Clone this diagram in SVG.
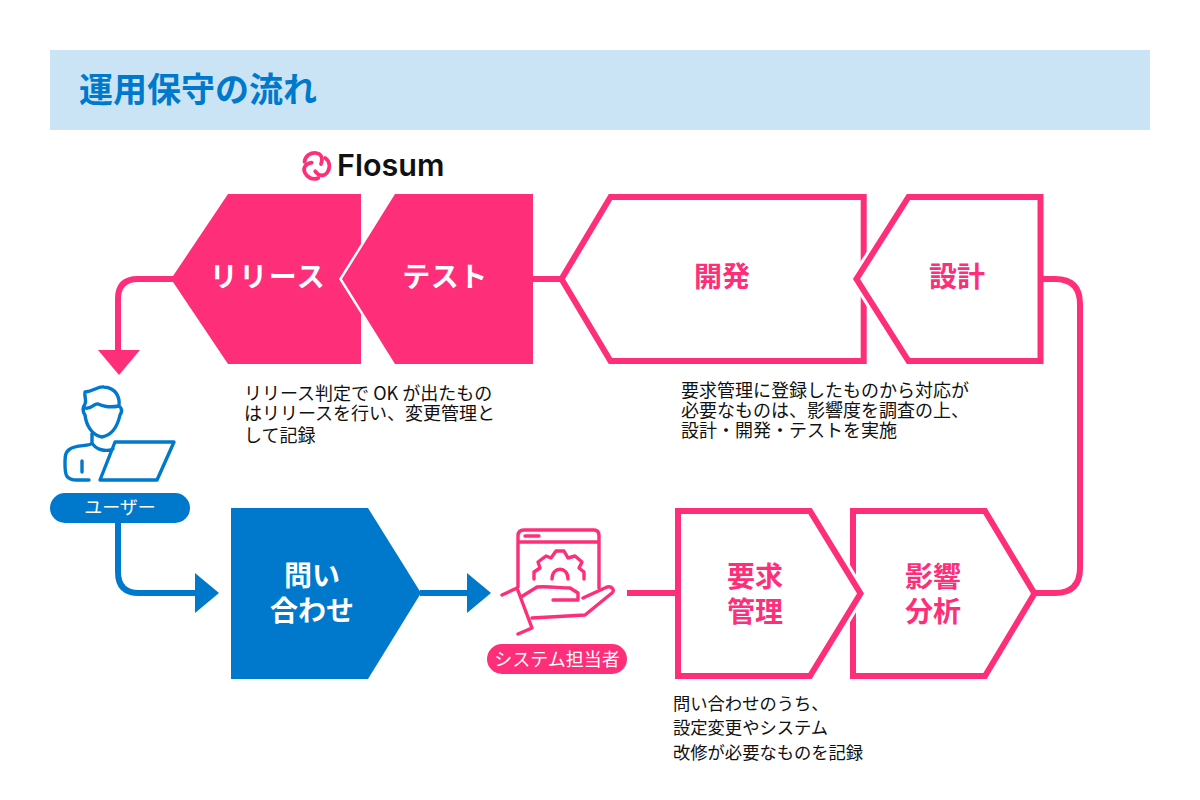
<svg xmlns="http://www.w3.org/2000/svg" width="1200" height="800" viewBox="0 0 1200 800">
<style>
text{font-family:"Noto Sans CJK JP","Liberation Sans",sans-serif}
.t{font-size:18px;fill:#111;font-weight:400}
.h{font-size:28px;font-weight:700;text-anchor:middle}
.p{fill:#ff2e78}.b{fill:#0079cc}
.ol{fill:#fff;stroke:#ff2e78;stroke-width:6;stroke-miterlimit:10}
.halo{fill:none;stroke:#fff;stroke-width:12;stroke-miterlimit:10}
.cp{fill:none;stroke:#ff2e78;stroke-width:6}
.cb{fill:none;stroke:#0079cc;stroke-width:6}
.ip{fill:none;stroke:#ff2e78;stroke-width:3.400;stroke-linecap:round;stroke-linejoin:round}
.ib{fill:none;stroke:#0079cc;stroke-width:3.400;stroke-linecap:round;stroke-linejoin:round}
.w{fill:#fff}
</style>
<defs><path id="lobe" d="M304.500 162C305 155.500 311 152.500 316 153C321 153.500 323.500 158 321 164" fill="none" stroke="#ff2e78" stroke-width="3.700" stroke-linecap="round"/></defs>
<rect width="1200" height="800" fill="#fff"/>
<g id="header"><rect x="50" y="50" width="1100" height="80" fill="#cbe4f5"/>
<text x="79" y="102" font-size="34" font-weight="700" fill="#0079cc">運用保守の流れ</text></g>
<g id="connectors">
<path class="cp" d="M175 279H138Q118 279 118 299V352"/>
<path class="p" d="M98 350H140L119 375Z"/>
<path class="cp" d="M533 279H562"/>
<path class="cp" d="M1043 279H1055Q1080 279 1080 304V568Q1080 593 1055 593H1034"/>
<path class="cp" d="M627 593H678"/>
<path class="cb" d="M118 522V572Q118 593 139 593H197"/>
<path class="b" d="M195 573L219 593L195 613Z"/>
<path class="cb" d="M420 593H468"/>
<path class="b" d="M467 573L491 593L467 613Z"/>
</g>
<g id="flosum"><use href="#lobe"/><use href="#lobe" transform="rotate(120 316 166)"/><use href="#lobe" transform="rotate(240 316 166)"/>
<text x="337" y="176" font-size="30.500" font-weight="600" fill="#111" style="font-family:'Inter','Liberation Sans',sans-serif">Flosum</text></g>
<g id="release"><path class="p" d="M228 194H361V244L339 279L361 314V364H228L171 279Z"/>
<text class="h w" x="268" y="287" letter-spacing="1.500">リリース</text></g>
<g id="test"><path class="p" d="M395 194H533V364H395L342 279Z"/>
<text class="h w" x="445" y="287" letter-spacing=".5">テスト</text></g>
<g id="dev"><path class="ol" d="M610.500 197H863.700V361H610.500L561.500 279Z"/>
<text class="h p" x="722" y="287">開発</text></g>
<g id="design"><path class="halo" d="M908.500 197L856.500 279L908.500 361"/><path class="ol" d="M908.500 197H1040.500V361H908.500L856.500 279Z"/>
<text class="h p" x="957" y="287">設計</text></g>
<g id="user"><path class="ib" d="M85 392C84 398 87 400 85 404C82 408 83 412 85 415C86 424 91 435 102 437C113 435 118 424 120 415C122 412 123 409 119 406C120 397 116 388 104 387C98 386 94 391 85 392ZM85 408C91 410 94 403 98 404C103 406 108 408 119 406M92 433V443C90 447 76 444 70 449C65 452 65 457 65 464C65 475 66 480 77 480H89M82 461V472M92 443C96 450 106 452 113 449M115 442H174L157 480H100Z"/>
<rect x="50" y="493" width="140" height="30" rx="15" class="b"/>
<text x="120" y="514" font-size="18" font-weight="400" text-anchor="middle" class="w">ユーザー</text></g>
<g id="inquiry"><path class="b" d="M231 508H368L421 593L368 679H231Z"/>
<text class="h w" text-anchor="middle"><tspan x="312" y="586">問い</tspan><tspan x="312" y="621">合わせ</tspan></text></g>
<g id="staff"><path class="ip" d="M518 587V536Q518 530 524 530H594Q599 530 599 536V588M518 542H599M525 536H539"/>
<path class="ip" d="M534 579V572L540 568L538 562L546 556L551 558L556 551H564L568 558L575 556L582 562L579 568L584 572V579M552 579C552 566 568 566 568 579"/>
<path class="ip" d="M502 595L517 588L532 628L518 634M521 597L537 587C548 586 560 588 570 588L578 593V600H553M583 598L607 587C612 586 615 590 612 593L585 615L532 618"/>
<rect x="487" y="644" width="140" height="30" rx="15" class="p"/>
<text x="557" y="666" font-size="18" font-weight="400" text-anchor="middle" class="w">システム担当者</text></g>
<g id="impact"><path class="ol" d="M853 511H985L1034.500 593.500L985 676H853Z"/>
<text class="h p" text-anchor="middle"><tspan x="933" y="587">影響</tspan><tspan x="933" y="622">分析</tspan></text></g>
<g id="req"><path class="halo" d="M810 511L860.500 593.500L810 676"/><path class="ol" d="M678 511H810L860.500 593.500L810 676H678Z"/>
<text class="h p" text-anchor="middle"><tspan x="755" y="587">要求</tspan><tspan x="755" y="622">管理</tspan></text></g>
<g id="notes">
<text class="t"><tspan x="244" y="400">リリース判定で OK が出たもの</tspan><tspan x="244" y="420">はリリースを行い、変更管理と</tspan><tspan x="244" y="442">して記録</tspan></text>
<text class="t"><tspan x="681" y="397">要求管理に登録したものから対応が</tspan><tspan x="681" y="417">必要なものは、影響度を調査の上、</tspan><tspan x="681" y="437">設計・開発・テストを実施</tspan></text>
<text class="t" style="font-size:17.300px"><tspan x="673" y="710">問い合わせのうち、</tspan><tspan x="673" y="734">設定変更やシステム</tspan><tspan x="673" y="759">改修が必要なものを記録</tspan></text>
</g>
</svg>
